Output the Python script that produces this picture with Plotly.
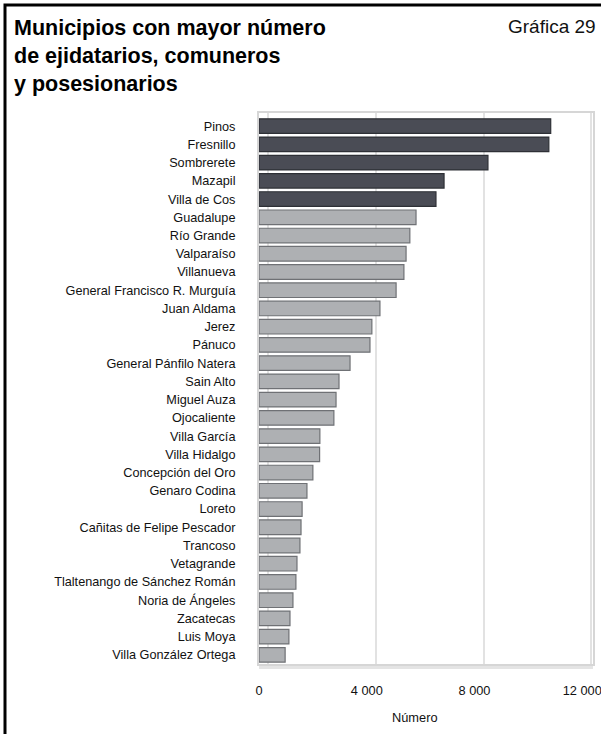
import plotly.graph_objects as go

# Municipios con mayor número de ejidatarios, comuneros y posesionarios
municipios = [
    "Pinos", "Fresnillo", "Sombrerete", "Mazapil", "Villa de Cos",
    "Guadalupe", "Río Grande", "Valparaíso", "Villanueva",
    "General Francisco R. Murguía", "Juan Aldama", "Jerez", "Pánuco",
    "General Pánfilo Natera", "Sain Alto", "Miguel Auza", "Ojocaliente",
    "Villa García", "Villa Hidalgo", "Concepción del Oro", "Genaro Codina",
    "Loreto", "Cañitas de Felipe Pescador", "Trancoso", "Vetagrande",
    "Tlaltenango de Sánchez Román", "Noria de Ángeles", "Zacatecas",
    "Luis Moya", "Villa González Ortega",
]
numero = [
    10830, 10760, 8500, 6870, 6570,
    5830, 5600, 5460, 5380,
    5090, 4490, 4190, 4120,
    3380, 2970, 2860, 2780,
    2260, 2250, 2000, 1780,
    1600, 1560, 1520, 1410,
    1370, 1260, 1150,
    1110, 970,
]
tick_vals = [0, 4000, 8000, 12000]
tick_text = ["0", "4 000", "8 000", "12 000"]
destacados = 5  # the five largest are drawn in dark grey

W, H = 601, 734
ML, MR, MT, MB = 259, 8, 113, 70
PW, PH = W - ML - MR, H - MT - MB
FONT = "Liberation Sans, Arial, sans-serif"


def px_x(px):
    return (px - ML) / PW


def px_y(py):
    return (H - MB - py) / PH


fill = ["#4a4c55" if i < destacados else "#aeb0b3" for i in range(len(numero))]
edge = ["#2e3036" if i < destacados else "#6f7175" for i in range(len(numero))]

fig = go.Figure()
fig.add_trace(go.Bar(
    x=numero, y=municipios, orientation="h", width=0.8,
    marker=dict(color=fill, line=dict(color=edge, width=1.2)),
    hoverinfo="skip", showlegend=False,
))
# empty trace that carries the back-wall grid axis
fig.add_trace(go.Scatter(x=[], y=[], xaxis="x2", yaxis="y", showlegend=False))

fig.update_layout(
    template="none",
    width=W, height=H,
    margin=dict(l=ML, r=MR, t=MT, b=MB, pad=0),
    paper_bgcolor="white", plot_bgcolor="white",
    font=dict(family=FONT, size=12.8, color="#111111"),
    xaxis=dict(
        range=[0, 12400], tickvals=tick_vals, ticktext=tick_text,
        showgrid=False, zeroline=False, ticks="",
        showline=True, mirror=True, linecolor="#d6d6d6", linewidth=2,
        ticklabelstandoff=14, ticklabeloverflow="allow", automargin=False,
        tickfont=dict(size=12.8, family=FONT, color="#111111"),
    ),
    xaxis2=dict(
        overlaying="x", range=[-335, 12065], tickvals=tick_vals,
        showticklabels=False, showgrid=True, gridcolor="#e2e2e2", gridwidth=2,
        zeroline=False, ticks="", showline=False, automargin=False,
    ),
    yaxis=dict(
        type="category", categoryorder="array", categoryarray=municipios,
        range=[29.5, -0.72], showgrid=False, zeroline=False, ticks="",
        showline=True, mirror=True, linecolor="#d6d6d6", linewidth=2,
        ticklabelstandoff=19, automargin=False,
        tickfont=dict(size=12.7, family=FONT, color="#111111"),
    ),
    bargap=0.2,
)

fig.add_annotation(
    xref="paper", yref="paper", x=px_x(12), y=px_y(14),
    xanchor="left", yanchor="top", align="left", showarrow=False,
    text="<b>Municipios con mayor número<br>de ejidatarios, comuneros<br>y posesionarios</b>",
    font=dict(family=FONT, size=21.5, color="#000000"),
)
fig.add_annotation(
    xref="paper", yref="paper", x=px_x(598), y=px_y(14),
    xanchor="right", yanchor="top", showarrow=False,
    text="Gráfica 29", font=dict(family=FONT, size=19, color="#111111"),
)
fig.add_annotation(
    xref="paper", yref="paper", x=px_x(415), y=px_y(717),
    xanchor="center", yanchor="middle", showarrow=False,
    text="Número", font=dict(family=FONT, size=12.8, color="#111111"),
)

# floor of the plot box
fig.add_shape(
    type="rect", xref="paper", yref="paper", layer="below",
    x0=0, x1=1, y0=px_y(669), y1=0,
    line=dict(width=0), fillcolor="#e4e4e4",
)

# outer black frame, open to the right and bottom edges of the page
fig.add_shape(
    type="rect", xref="paper", yref="paper",
    x0=px_x(5), x1=px_x(620), y0=px_y(750), y1=px_y(5),
    line=dict(color="#000000", width=3), fillcolor="rgba(0,0,0,0)",
)

fig.write_html("out.html")
